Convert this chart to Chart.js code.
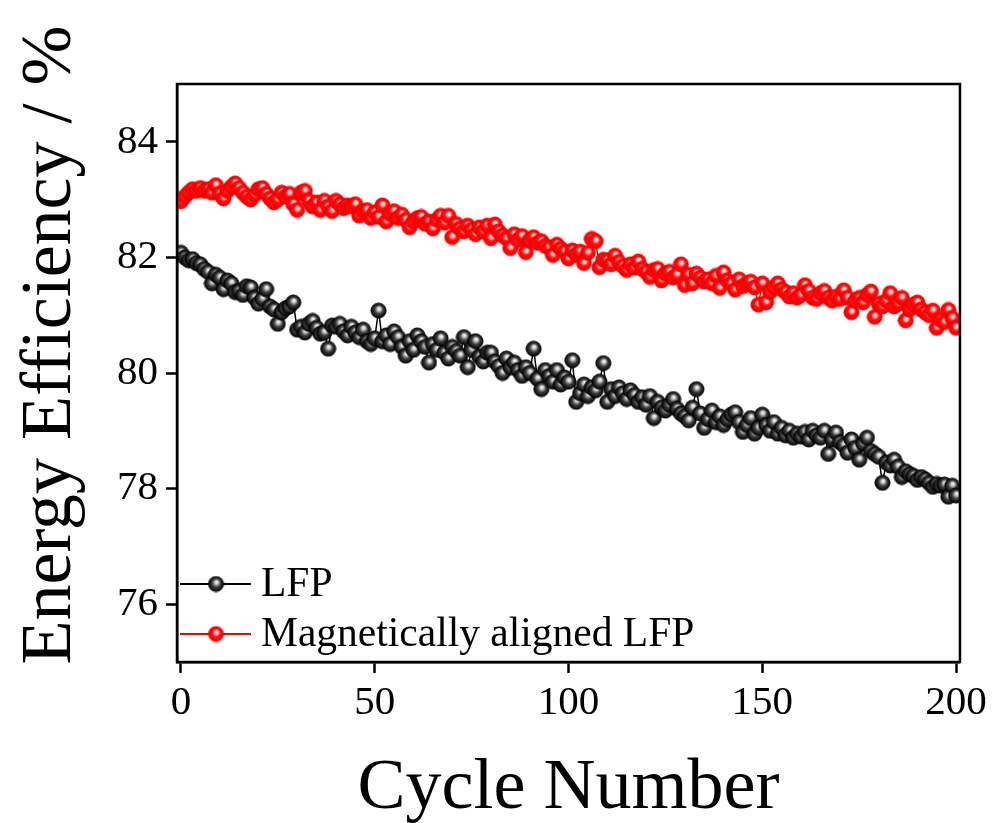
<!DOCTYPE html>
<html>
<head>
<meta charset="utf-8">
<script src="https://cdn.jsdelivr.net/npm/chart.js@4.4.1/dist/chart.umd.min.js"></script>
<style>
  html, body { margin: 0; padding: 0; background: #ffffff; }
  #wrap { width: 993px; height: 823px; position: relative; }
</style>
</head>
<body>
<div id="wrap"><canvas id="c" width="993" height="823"></canvas></div>
<script>
// ---------- data ----------
const cycles = Array.from({ length: 201 }, (_, i) => i);

const lfp = [
  82.08, 82.00, 81.95, 81.97, 81.90, 81.88, 81.80, 81.75, 81.55, 81.70,
  81.65, 81.45, 81.60, 81.55, 81.40, 81.42, 81.35, 81.50, 81.48, 81.30,
  81.20, 81.28, 81.45, 81.15, 81.10, 80.85, 81.05, 81.12, 81.15, 81.22,
  80.75, 80.80, 80.70, 80.85, 80.90, 80.78, 80.68, 80.70, 80.42, 80.82,
  80.80, 80.85, 80.72, 80.65, 80.80, 80.70, 80.62, 80.75, 80.55, 80.50,
  80.60, 81.08, 80.55, 80.65, 80.50, 80.72, 80.62, 80.45, 80.30, 80.55,
  80.40, 80.65, 80.55, 80.45, 80.18, 80.50, 80.40, 80.60, 80.35, 80.25,
  80.45, 80.38, 80.30, 80.62, 80.10, 80.40, 80.55, 80.28, 80.20, 80.35,
  80.35, 80.20, 80.12, 80.00, 80.25, 80.10, 80.18, 80.05, 79.95, 80.10,
  80.00, 80.42, 79.90, 79.72, 80.05, 79.95, 79.85, 80.05, 79.80, 79.92,
  79.85, 80.22, 79.50, 79.65, 79.80, 79.60, 79.75, 79.70, 79.85, 80.17,
  79.50, 79.72, 79.60, 79.75, 79.65, 79.55, 79.70, 79.62, 79.50, 79.58,
  79.45, 79.60, 79.22, 79.50, 79.40, 79.35, 79.45, 79.55, 79.38, 79.30,
  79.25, 79.18, 79.40, 79.72, 79.30, 79.05, 79.20, 79.35, 79.15, 79.25,
  79.10, 79.20, 79.28, 79.32, 79.15, 78.98, 79.10, 79.22, 78.95, 79.05,
  79.28, 79.10, 79.00, 79.15, 78.95, 79.05, 78.92, 79.00, 78.88, 78.95,
  78.90, 78.98, 78.85, 79.00, 78.92, 78.88, 79.00, 78.60, 78.85, 78.97,
  78.80, 78.75, 78.62, 78.85, 78.70, 78.50, 78.78, 78.88, 78.65, 78.60,
  78.55, 78.10, 78.45, 78.40, 78.50, 78.38, 78.20, 78.30, 78.25, 78.22,
  78.15, 78.20, 78.16, 78.10, 78.03, 78.08, 78.05, 78.07, 77.86, 78.05,
  77.88
];

const aligned = [
  82.97, 83.05, 83.12, 83.18, 83.15, 83.20, 83.15, 83.18, 83.12, 83.25,
  83.10, 83.02, 83.15, 83.22, 83.28, 83.20, 83.12, 83.05, 83.00, 83.08,
  83.18, 83.20, 83.10, 83.02, 82.95, 83.00, 83.12, 83.05, 83.10, 82.92,
  82.82, 83.12, 83.15, 82.98, 82.88, 82.95, 82.82, 82.98, 82.88, 82.80,
  82.98, 82.92, 82.85, 82.90, 82.88, 82.92, 82.72, 82.80, 82.82, 82.68,
  82.78, 82.70, 82.90, 82.62, 82.75, 82.80, 82.68, 82.74, 82.65, 82.52,
  82.62, 82.68, 82.70, 82.58, 82.62, 82.50, 82.65, 82.72, 82.60, 82.72,
  82.35, 82.58, 82.50, 82.45, 82.55, 82.48, 82.40, 82.52, 82.45, 82.55,
  82.33, 82.57, 82.45, 82.38, 82.33, 82.16, 82.40, 82.30, 82.37, 82.09,
  82.30, 82.35, 82.25, 82.28, 82.20, 82.17, 82.04, 82.22, 82.15, 82.10,
  81.98, 82.12, 82.05, 82.10, 81.90, 82.08, 82.32, 82.28, 81.83, 81.96,
  81.95, 81.88, 82.03, 81.92, 81.85, 81.78, 81.88, 81.82, 81.93, 81.80,
  81.75, 81.66, 81.78, 81.80, 81.60, 81.72, 81.75, 81.65, 81.70, 81.88,
  81.52, 81.70, 81.55, 81.72, 81.65, 81.58, 81.62, 81.55, 81.68, 81.47,
  81.74, 81.60, 81.55, 81.44, 81.62, 81.50, 81.55, 81.58, 81.48, 81.18,
  81.55, 81.22, 81.40, 81.48, 81.55, 81.45, 81.40, 81.32, 81.38, 81.30,
  81.35, 81.52, 81.42, 81.30, 81.28, 81.38, 81.42, 81.30, 81.25, 81.32,
  81.28, 81.43, 81.30, 81.05, 81.25, 81.30, 81.22, 81.35, 81.41, 80.97,
  81.20, 81.15, 81.25, 81.38, 81.15, 81.20, 81.30, 80.91, 81.10, 81.18,
  81.22, 81.10, 81.05, 81.00, 81.08, 80.78, 80.92, 80.88, 81.09, 80.95,
  80.78
];

const seriesNames = ['LFP', 'Magnetically aligned LFP'];
const xTicks = [0, 50, 100, 150, 200];
const yTicks = [76, 78, 80, 82, 84];
const xTitle = 'Cycle Number';
const yTitle = 'Energy Efficiency / %';

// ---------- styling ----------
const FONT = "'Liberation Serif', 'Times New Roman', serif";

function makeSphere(kind) {
  const r = 7.6;
  const size = 17;
  const cv = document.createElement('canvas');
  cv.width = size; cv.height = size;
  const g = cv.getContext('2d');
  const cx = size / 2, cy = size / 2;
  const grad = g.createRadialGradient(cx + 0.8, cy - 2.2, 0, cx, cy, r);
  if (kind === 'black') {
    grad.addColorStop(0, '#ffffff');
    grad.addColorStop(0.22, '#d0d0d0');
    grad.addColorStop(0.55, '#404040');
    grad.addColorStop(1, '#000000');
  } else {
    grad.addColorStop(0, '#ffffff');
    grad.addColorStop(0.22, '#ffc0c0');
    grad.addColorStop(0.52, '#ff1010');
    grad.addColorStop(1, '#ee0000');
  }
  g.beginPath();
  g.arc(cx, cy, r, 0, Math.PI * 2);
  g.fillStyle = grad;
  g.fill();
  g.lineWidth = 0.8;
  g.strokeStyle = kind === 'black' ? '#000000' : '#f00000';
  g.stroke();
  return cv;
}
const blackBall = makeSphere('black');
const redBall = makeSphere('red');

const frame = {
  id: 'frame',
  afterDatasetsDraw(chart) {
    const { ctx, chartArea: a } = chart;
    ctx.save();
    ctx.strokeStyle = '#000';
    ctx.lineWidth = 2.5;
    ctx.strokeRect(a.left, a.top, a.right - a.left, a.bottom - a.top);
    ctx.restore();
  }
};

const legendAndTitles = {
  id: 'legendAndTitles',
  afterDraw(chart) {
    const { ctx } = chart;
    ctx.save();
    // legend
    const rows = [
      { name: seriesNames[0], color: '#000000', ball: blackBall, y: 584 },
      { name: seriesNames[1], color: '#ff0000', ball: redBall, y: 634 }
    ];
    rows.forEach(r => {
      ctx.strokeStyle = r.color;
      ctx.lineWidth = 2;
      ctx.beginPath();
      ctx.moveTo(180, r.y);
      ctx.lineTo(251, r.y);
      ctx.stroke();
      ctx.drawImage(r.ball, 216 - r.ball.width / 2, r.y - r.ball.height / 2);
      ctx.fillStyle = '#000';
      ctx.font = '41.5px ' + FONT;
      ctx.textAlign = 'left';
      ctx.textBaseline = 'middle';
      ctx.fillText(r.name, 261, r.y + 1);
    });
    // axis titles
    ctx.fillStyle = '#000';
    ctx.font = '72px ' + FONT;
    ctx.textAlign = 'center';
    ctx.textBaseline = 'alphabetic';
    ctx.fillText(xTitle, (chart.chartArea.left + chart.chartArea.right) / 2, 808);
    ctx.translate(70, 345);
    ctx.rotate(-Math.PI / 2);
    ctx.fillText(yTitle, 0, 0);
    ctx.restore();
  }
};

const ctx = document.getElementById('c').getContext('2d');
new Chart(ctx, {
  type: 'line',
  data: {
    datasets: [
      {
        label: seriesNames[0],
        data: lfp.map((v, i) => ({ x: cycles[i], y: v })),
        borderColor: '#000000',
        borderWidth: 1.5,
        pointStyle: blackBall,
        pointRadius: 8,
        fill: false,
        tension: 0
      },
      {
        label: seriesNames[1],
        data: aligned.map((v, i) => ({ x: cycles[i], y: v })),
        borderColor: '#ff0000',
        borderWidth: 1.5,
        pointStyle: redBall,
        pointRadius: 8,
        fill: false,
        tension: 0
      }
    ]
  },
  options: {
    responsive: false,
    animation: false,
    devicePixelRatio: 1,
    layout: { padding: { top: 84, right: 30, left: 0, bottom: 0 } },
    plugins: { legend: { display: false }, tooltip: { enabled: false } },
    scales: {
      x: {
        type: 'linear',
        min: -1,
        max: 201,
        afterBuildTicks: s => { s.ticks = xTicks.map(v => ({ value: v })); },
        afterFit: s => { s.height = 161; },
        grid: { drawOnChartArea: false, drawTicks: true, tickLength: 11, tickWidth: 2.5, tickColor: '#000' },
        border: { display: true, color: '#000', width: 2.5 },
        ticks: { color: '#000', font: { family: FONT, size: 41 }, padding: 6, maxRotation: 0 }
      },
      y: {
        type: 'linear',
        min: 75,
        max: 85,
        afterBuildTicks: s => { s.ticks = yTicks.map(v => ({ value: v })); },
        afterFit: s => { s.width = 177; },
        grid: { drawOnChartArea: false, drawTicks: true, tickLength: 11, tickWidth: 2.5, tickColor: '#000' },
        border: { display: true, color: '#000', width: 2.5 },
        ticks: { color: '#000', font: { family: FONT, size: 41 }, padding: 8 }
      }
    }
  },
  plugins: [frame, legendAndTitles]
});
</script>
</body>
</html>
